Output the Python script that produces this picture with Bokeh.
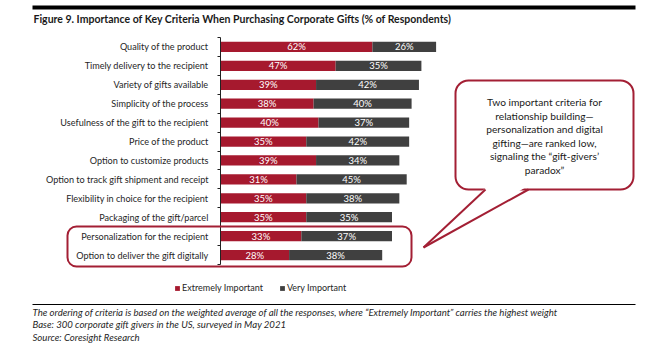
from bokeh.plotting import figure
from bokeh.models import (Range1d, FixedTicker, LinearAxis, Label, BoxAnnotation,
                          Legend, LegendItem, ColumnDataSource)
from bokeh.core.properties import value
from bokeh.embed import file_html
from bokeh.resources import INLINE

# ---------------- data ----------------
categories = [
    "Quality of the product",
    "Timely delivery to the recipient",
    "Variety of gifts available",
    "Simplicity of the process",
    "Usefulness of the gift to the recipient",
    "Price of the product",
    "Option to customize products",
    "Option to track gift shipment and receipt",
    "Flexibility in choice for the recipient",
    "Packaging of the gift/parcel",
    "Personalization for the recipient",
    "Option to deliver the gift digitally",
]
extremely = [62, 47, 39, 38, 40, 35, 39, 31, 35, 35, 33, 28]
very = [26, 35, 42, 40, 37, 42, 34, 45, 38, 35, 37, 38]
series_names = ["Extremely Important", "Very Important"]

title_text = "Figure 9. Importance of Key Criteria When Purchasing Corporate Gifts (% of Respondents)"
callout_lines = [
    "Two important criteria for",
    "relationship building\u2014",
    "personalization and digital",
    "gifting\u2014are ranked low,",
    "signaling the \u201cgift-givers\u2019",
    "paradox\u201d",
]
footer_lines = [
    "The ordering of criteria is based on the weighted average of all the responses, where \u201cExtremely Important\u201d carries the highest weight",
    "Base: 300 corporate gift givers in the US, surveyed in May 2021",
    "Source: Coresight Research",
]

# ---------------- styling ----------------
RED = "#A6192E"
DARK = "#404040"
BOX = "#A31F34"
FONT = "Lato"

W, H = 669, 344
AX_X, AX_TOP, AX_BOT = 220, 37, 264      # pixel position of the bar area
PX_PER_PCT = 2.45
n = len(categories)
ROW = (AX_BOT - AX_TOP) / n


def dx(X):
    return (X - AX_X) / PX_PER_PCT


def dy(Y):
    return -0.5 + (AX_BOT - Y) / ROW


p = figure(width=W, height=H, output_backend="svg", toolbar_location=None,
           x_range=Range1d(dx(0), dx(W)), y_range=Range1d(dy(H), dy(0)),
           x_axis_type=None, y_axis_type=None,
           min_border_left=0, min_border_right=0,
           min_border_top=0, min_border_bottom=0)
p.outline_line_color = None
p.background_fill_color = "white"
p.border_fill_color = "white"

pos = [n - 1 - i for i in range(n)]
total = [a + b for a, b in zip(extremely, very)]
src = ColumnDataSource(dict(
    y=pos, ext=extremely, very=very, total=total,
    ext_mid=[a / 2 for a in extremely],
    very_mid=[a + b / 2 for a, b in zip(extremely, very)],
    ext_lbl=[f"{a}%" for a in extremely],
    very_lbl=[f"{b}%" for b in very],
))

r1 = p.hbar(y="y", left=0, right="ext", height=0.54, source=src,
            fill_color=RED, line_color=None)
r2 = p.hbar(y="y", left="ext", right="total", height=0.54, source=src,
            fill_color=DARK, line_color=None)

p.text(x="ext_mid", y="y", text="ext_lbl", source=src, text_color="white",
       text_font=value(FONT), text_font_size="9.5px", text_align="center",
       text_baseline="middle")
p.text(x="very_mid", y="y", text="very_lbl", source=src, text_color="white",
       text_font=value(FONT), text_font_size="9.5px", text_align="center",
       text_baseline="middle")

# category axis, pinned at x = 0
yaxis = LinearAxis(
    fixed_location=0, bounds=(-0.5, n - 0.5),
    ticker=FixedTicker(ticks=pos, minor_ticks=[k - 0.5 for k in range(n + 1)]),
    major_label_overrides={pp: c for pp, c in zip(pos, categories)},
    major_tick_out=0, major_tick_in=0, minor_tick_out=3, minor_tick_in=0,
    minor_tick_line_color="#222222", axis_line_color="#222222",
    major_label_standoff=9, major_label_text_font=FONT,
    major_label_text_font_size="9.1px", major_label_text_color="#262626",
)
p.add_layout(yaxis, "left")

# legend
legend = Legend(items=[LegendItem(label=series_names[0], renderers=[r1]),
                       LegendItem(label=series_names[1], renderers=[r2])],
                orientation="horizontal", location=(174, H - 293),
                glyph_width=6, glyph_height=6, label_standoff=2, spacing=16,
                padding=0, margin=0, border_line_color=None,
                background_fill_alpha=0, label_text_font=FONT,
                label_text_font_size="9px", label_text_color="#262626",
                label_height=10)
p.add_layout(legend)

# top black rule and footer rule
p.add_layout(BoxAnnotation(left=dx(32), right=dx(635), top=dy(5), bottom=dy(9),
                           fill_color="black", fill_alpha=1, line_color=None))
p.add_layout(BoxAnnotation(left=dx(32), right=dx(635), top=dy(303.5), bottom=dy(304.5),
                           fill_color="black", fill_alpha=1, line_color=None))

# title
p.add_layout(Label(x=dx(33), y=dy(18), text=title_text, text_font=FONT,
                   text_font_style="bold", text_font_size="10.5px",
                   text_color="#1a1a1a", text_baseline="middle"))

# highlight box
p.add_layout(BoxAnnotation(left=dx(67), right=dx(411), top=dy(226), bottom=dy(266),
                           fill_alpha=0, line_color=BOX, line_alpha=1, line_width=2,
                           border_radius=9))

# callout bubble
p.add_layout(BoxAnnotation(left=dx(455), right=dx(633), top=dy(80), bottom=dy(189),
                           fill_color="white", fill_alpha=1, line_color=BOX,
                           line_alpha=1, line_width=2, border_radius=13))
tail = p.patch(x=[dx(486.5), dx(526.5), dx(423)], y=[dy(186), dy(186), dy(247)],
               fill_color="white", line_color=None)
tail.level = "overlay"
seg = p.segment(x0=[dx(485), dx(528)], y0=[dy(189), dy(189)],
                x1=[dx(423), dx(423)], y1=[dy(247), dy(247)],
                line_color=BOX, line_width=2)
seg.level = "overlay"

for k, line in enumerate(callout_lines):
    p.add_layout(Label(x=dx(544), y=dy(101.7 + 13.5 * k), text=line, text_font=FONT,
                       text_font_size="10.2px", text_color="#1a1a1a",
                       text_align="center", text_baseline="middle"))

# footer
for k, line in enumerate(footer_lines):
    p.add_layout(Label(x=dx(32), y=dy(311.5 + 12.8 * k), text=line, text_font=FONT,
                       text_font_style="italic", text_font_size="9.6px",
                       text_color="#262626", text_baseline="middle"))

open("out.html", "w").write(file_html(p, INLINE))
